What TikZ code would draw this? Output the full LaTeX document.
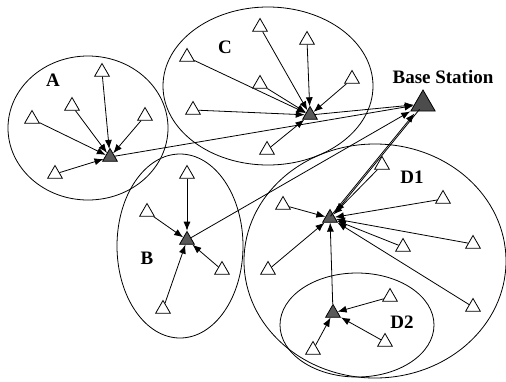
\documentclass[tikz,border=0pt]{standalone}
\usepackage{fontspec}
\setmainfont{Liberation Serif}
\usetikzlibrary{shapes.geometric}
\usetikzlibrary{arrows.meta}

\tikzset{
  member/.style={draw, fill=white, regular polygon, regular polygon sides=3,
    minimum size=17pt, inner sep=0pt, line width=0.8pt},
  head/.style={member, fill=black!65},
  sink/.style={member, minimum size=28pt, fill=black!70},
  link/.style={line width=0.8pt, -{Latex[length=9pt,width=7pt]}},
  tag/.style={font=\fontsize{19}{22}\selectfont\bfseries},
}

\begin{document}
\begin{tikzpicture}[x=1pt, y=-1pt, line width=0.8pt]
  \useasboundingbox (0,0) rectangle (506,381);

  % clusters
  \draw (88,128) ellipse [x radius=80pt, y radius=72pt];
  \draw (268,86) ellipse [x radius=105pt, y radius=79pt];
  \draw (180,246) ellipse [x radius=63pt, y radius=92pt];
  \draw (375,261) ellipse [x radius=131pt, y radius=117pt];
  \draw (357,325) ellipse [x radius=77pt, y radius=52pt];

  % cluster heads and sink
  \node [head] (ahead) at (110,157) {};
  \node [head] (chead) at (310,115) {};
  \node [head] (bhead) at (187,240) {};
  \node [head] (dhead) at (330,218) {};
  \node [head] (ehead) at (333,313) {};
  \node [sink] (bs) at (423,104) {};

  \node [tag] (alabel) at (53,80) {A};
  \node [tag] (clabel) at (225,47) {C};
  \node [tag] (blabel) at (147,258) {B};
  \node [tag] (dlabel) at (412,177) {D1};
  \node [tag] (elabel) at (402,322) {D2};
  \node [tag] (bslabel) at (443,77) {Base Station};

  % members
  \foreach \p [count=\i] in {(102,72),(72,106),(32,119),(145,116),(55,174)} {
    \node [member] (a\i) at \p {};
    \draw [link] (a\i) -- (ahead);
  }
  \foreach \p [count=\i] in {(260,27),(307,40),(187,57),(260,84),(352,79),(193,110),(267,150)} {
    \node [member] (c\i) at \p {};
    \draw [link] (c\i) -- (chead);
  }
  \foreach \p [count=\i] in {(187,174),(147,212),(222,270),(163,309)} {
    \node [member] (b\i) at \p {};
    \draw [link] (b\i) -- (bhead);
  }
  \foreach \p [count=\i] in {(382,165),(283,205),(443,199),(403,247),(473,244),(268,270),(473,307)} {
    \node [member] (d\i) at \p {};
    \draw [link] (d\i) -- (dhead);
  }
  \foreach \p [count=\i] in {(390,297),(385,342),(313,350)} {
    \node [member] (e\i) at \p {};
    \draw [link] (e\i) -- (ehead);
  }

  % heads to sink
  \draw [link] (ahead) -- (bs);
  \draw [link] (chead) -- (bs);
  \draw [link] (bhead) -- (bs);
  \draw [link] (ehead) -- (dhead);
  \draw [link, transform canvas={xshift=-2.6pt, yshift=-2.1pt}] (dhead) -- (bs);
  \draw [link, transform canvas={xshift=2.6pt, yshift=2.1pt}] (bs) -- (dhead);
\end{tikzpicture}
\end{document}
